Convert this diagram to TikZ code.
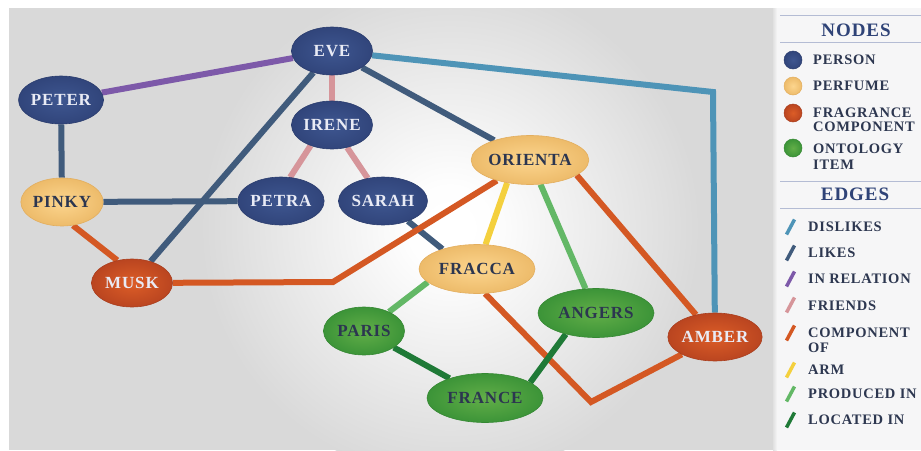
\documentclass[tikz,border=0pt]{standalone}
\usepackage{fontspec}
\setmainfont{Liberation Serif}
\newfontfamily\labelfont{Liberation Serif}[LetterSpace=5]
\usetikzlibrary{shapes.geometric}

\pgfdeclarelayer{backdrop}
\pgfdeclarelayer{links}
\pgfsetlayers{backdrop,links,main}

% panel colours
\definecolor{bggray}{HTML}{D9D9D9}
\definecolor{legendbg}{HTML}{F6F6F7}
\definecolor{rulecol}{HTML}{B4BCD4}
\definecolor{headcol}{HTML}{2F4377}
\definecolor{legfg}{HTML}{2D3750}
% node colours
\definecolor{personin}{HTML}{3E5690}
\definecolor{personout}{HTML}{31457B}
\definecolor{personedge}{HTML}{2B3D6E}
\definecolor{personfg}{HTML}{E9EBF5}
\definecolor{perfumein}{HTML}{FCD58E}
\definecolor{perfumeout}{HTML}{EDBB6A}
\definecolor{perfumeedge}{HTML}{E3AE5E}
\definecolor{compin}{HTML}{DC5D27}
\definecolor{compout}{HTML}{BA4520}
\definecolor{compedge}{HTML}{A93E1E}
\definecolor{ontoin}{HTML}{62AE48}
\definecolor{ontoout}{HTML}{3C9438}
\definecolor{ontoedge}{HTML}{358833}
\definecolor{darkfg}{HTML}{2C3650}
% edge colours
\definecolor{dislikescol}{HTML}{4E94B7}
\definecolor{likescol}{HTML}{405B7C}
\definecolor{inrelcol}{HTML}{7D59A9}
\definecolor{friendscol}{HTML}{D6959A}
\definecolor{compcol}{HTML}{D45823}
\definecolor{armcol}{HTML}{F4D03E}
\definecolor{producedcol}{HTML}{63B866}
\definecolor{locatedcol}{HTML}{1F7A37}

% soft white glow that reaches the panel grey exactly at the circle's rim
\pgfdeclareradialshading{panelglow}{\pgfpointorigin}{%
  color(0bp)=(white); color(4bp)=(white!98!bggray); color(25bp)=(bggray); color(50bp)=(bggray)}

\tikzset{
  ent/.style={ellipse, inner sep=0pt, minimum width=81pt, minimum height=48pt,
    line width=0.6pt, font=\labelfont\bfseries\fontsize{17}{18}\selectfont},
  wide/.style={minimum width=116pt, minimum height=49pt},
  person/.style={ent, draw=personedge, inner color=personin, outer color=personout, text=personfg},
  perfume/.style={ent, draw=perfumeedge, inner color=perfumein, outer color=perfumeout, text=darkfg},
  component/.style={ent, draw=compedge, inner color=compin, outer color=compout, text=personfg},
  onto/.style={ent, draw=ontoedge, inner color=ontoin, outer color=ontoout, text=darkfg},
  link/.style={line width=6pt, line join=miter, line cap=butt},
  dislikes/.style={link, draw=dislikescol},
  likes/.style={link, draw=likescol},
  inrel/.style={link, draw=inrelcol},
  friends/.style={link, draw=friendscol},
  compof/.style={link, draw=compcol},
  arm/.style={link, draw=armcol},
  produced/.style={link, draw=producedcol},
  located/.style={link, draw=locatedcol},
  swatch/.style={line width=3.5pt, line cap=butt},
  legdot/.style={circle, inner sep=0pt, minimum size=18pt, line width=0.5pt},
  legtext/.style={anchor=west, inner sep=0pt, text height=9.5pt, text depth=0pt,
    text=legfg, font=\labelfont\bfseries\fontsize{14.5}{15}\selectfont},
  leghead/.style={inner sep=0pt, text height=13pt, text depth=0pt, text=headcol,
    font=\labelfont\bfseries\fontsize{19}{20}\selectfont},
}

\begin{document}
\begin{tikzpicture}[x=1pt, y=-1pt]
\useasboundingbox (0,0) rectangle (921,450);

% ---------- backdrop ----------
\begin{pgfonlayer}{backdrop}
  \fill[white] (0,0) rectangle (921,450);
  \fill[bggray] (9,8) rectangle (773,450);
  \begin{scope}
    \clip (9,8) rectangle (773,450);
    \shade[shading=panelglow] (450,228) circle (250);
  \end{scope}
  \fill[left color=bggray!80!white, right color=legendbg] (773,8) rectangle (777,450);
  \fill[legendbg] (777,8) rectangle (921,450);
\end{pgfonlayer}

% ---------- nodes ----------
\node[person] (eve)    at (332,51)  {EVE};
\node[person] (peter)  at (61,100)  {PETER};
\node[person] (irene)  at (332,125) {IRENE};
\node[person] (petra)  at (281,201) {PETRA};
\node[person] (sarah)  at (383,201) {SARAH};
\node[perfume] (pinky)   at (62,202)  {PINKY};
\node[perfume, wide] (orienta) at (530,160) {ORIENTA};
\node[perfume, wide] (fracca)  at (477,269) {FRACCA};
\node[component] (musk)  at (132,283) {MUSK};
\node[component] (amber) at (715,337) {AMBER};
\node[onto] (paris)        at (364,331) {PARIS};
\node[onto, wide] (angers) at (596,313) {ANGERS};
\node[onto, wide] (france) at (485,398) {FRANCE};

% bend points of the routed edges
\coordinate (dislikebend) at (713,92);
\coordinate (muskbend)    at (333,282);
\coordinate (fraccabend)  at (591,402);

% ---------- edges ----------
\begin{pgfonlayer}{links}
  \draw[dislikes] (eve) -- (dislikebend) -- (amber);
  \draw[inrel] (eve) -- (peter);
  \draw[friends] (eve) -- (irene);
  \draw[friends] (irene.224) -- (petra.69);
  \draw[friends] (irene) -- (sarah);
  \draw[likes] (eve) -- (musk);
  \draw[likes] (eve) -- (orienta);
  \draw[likes] (peter) -- (pinky);
  \draw[likes] (pinky) -- (petra);
  \draw[likes] (sarah) -- (fracca.150);
  \draw[compof] (pinky.295) -- (musk.123);
  \draw[compof] (musk) -- (muskbend) -- (orienta);
  \draw[compof] (orienta.342) -- (amber);
  \draw[compof] (fracca.288) -- (fraccabend) -- (amber);
  \draw[arm] (orienta.225) -- (fracca);
  \draw[produced] (orienta) -- (angers);
  \draw[produced] (fracca.195) -- (paris);
  \draw[located] (paris) -- (france);
  \draw[located] (angers.215) -- (france.19);
\end{pgfonlayer}

% ---------- legend ----------
\draw[rulecol, line width=1pt] (780,15) -- (921,15);
\node[leghead] (nodeshead) at (856,30) {NODES};
\draw[rulecol, line width=1pt] (780,42) -- (921,42);

\node[legdot, draw=personedge, inner color=personin, outer color=personout] (dotperson) at (793,60) {};
\node[legtext] (txtperson) at (813,60) {PERSON};
\node[legdot, draw=perfumeedge, inner color=perfumein, outer color=perfumeout] (dotperfume) at (793,86) {};
\node[legtext] (txtperfume) at (813,86) {PERFUME};
\node[legdot, draw=compedge, inner color=compin, outer color=compout] (dotcomp) at (793,113) {};
\node[legtext] (txtfrag) at (813,112.5) {FRAGRANCE};
\node[legtext] (txtcomp) at (813,127) {COMPONENT};
\node[legdot, draw=ontoedge, inner color=ontoin, outer color=ontoout] (dotonto) at (793,148) {};
\node[legtext] (txtonto) at (813,148.5) {ONTOLOGY};
\node[legtext] (txtitem) at (813,165) {ITEM};

\draw[rulecol, line width=1pt] (780,181) -- (921,181);
\node[leghead] (edgeshead) at (855,194) {EDGES};
\draw[rulecol, line width=1pt] (780,208) -- (921,208);

\draw[swatch, dislikescol] (786.5,234.5) -- (794.5,219.5);
\node[legtext] (txtdislikes) at (808,227) {DISLIKES};
\draw[swatch, likescol] (786.5,260.5) -- (794.5,245.5);
\node[legtext] (txtlikes) at (808,253) {LIKES};
\draw[swatch, inrelcol] (786.5,286.5) -- (794.5,271.5);
\node[legtext] (txtinrel) at (808,279) {IN RELATION};
\draw[swatch, friendscol] (786.5,312.5) -- (794.5,297.5);
\node[legtext] (txtfriends) at (808,305.5) {FRIENDS};
\draw[swatch, compcol] (786.5,340.5) -- (794.5,325.5);
\node[legtext] (txtcompof) at (808,333) {COMPONENT};
\node[legtext] (txtof) at (808,348) {OF};
\draw[swatch, armcol] (786.5,377.5) -- (794.5,362.5);
\node[legtext] (txtarm) at (808,370) {ARM};
\draw[swatch, producedcol] (786.5,401.5) -- (794.5,386.5);
\node[legtext] (txtproduced) at (808,394) {PRODUCED IN};
\draw[swatch, locatedcol] (786.5,427.5) -- (794.5,412.5);
\node[legtext] (txtlocated) at (808,420) {LOCATED IN};
\end{tikzpicture}
\end{document}
